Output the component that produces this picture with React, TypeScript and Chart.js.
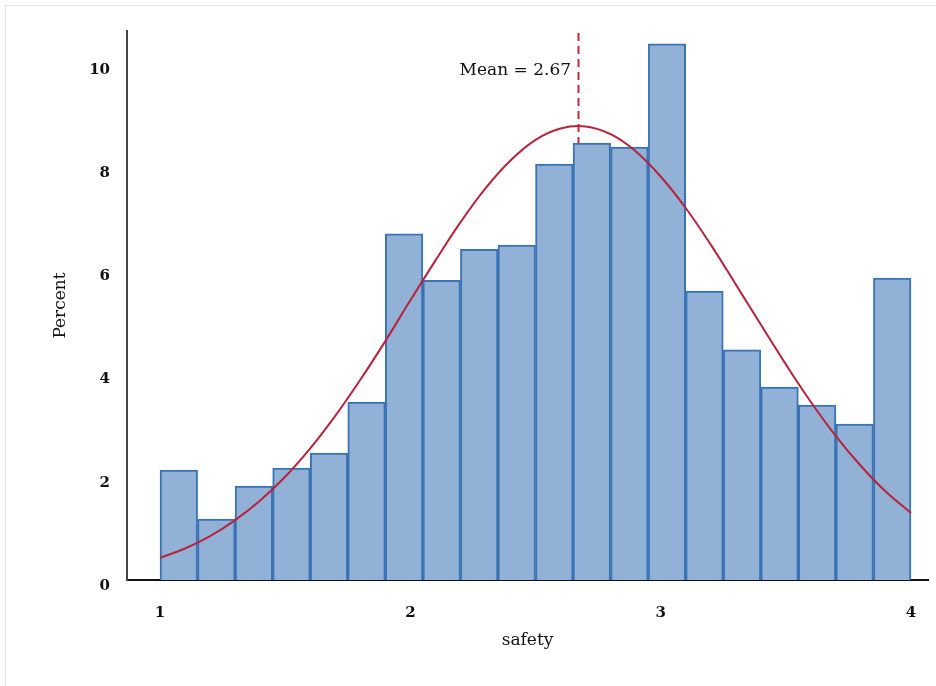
import React, { useEffect, useRef } from "react";
import { Chart, registerables } from "chart.js";

Chart.register(...registerables);

// Histogram of "safety": 20 bins of width 0.15 starting at 1.0 (percent of cases)
const BIN_START = 1.0;
const BIN_WIDTH = 0.15;
const BIN_PERCENTS = [
  2.13, 1.18, 1.82, 2.17, 2.46, 3.45, 6.71, 5.81, 6.41, 6.49,
  8.06, 8.47, 8.39, 10.39, 5.6, 4.46, 3.74, 3.39, 3.02, 5.85,
];

// Fitted normal curve, sampled every 0.1 along the safety axis
const CURVE_X = [
  1.0, 1.1, 1.2, 1.3, 1.4, 1.5, 1.6, 1.7, 1.8, 1.9, 2.0, 2.1, 2.2, 2.3, 2.4, 2.5,
  2.6, 2.7, 2.8, 2.9, 3.0, 3.1, 3.2, 3.3, 3.4, 3.5, 3.6, 3.7, 3.8, 3.9, 4.0,
];
const CURVE_Y = [
  0.43, 0.61, 0.85, 1.16, 1.54, 2.0, 2.55, 3.18, 3.88, 4.63, 5.42, 6.19, 6.93, 7.59, 8.13, 8.53,
  8.75, 8.79, 8.64, 8.31, 7.82, 7.21, 6.5, 5.73, 4.95, 4.18, 3.45, 2.79, 2.21, 1.71, 1.3,
];

const MEAN = 2.67;
const MEAN_LABEL = "Mean = 2.67";

const X_TICKS = [1, 2, 3, 4];
const Y_TICKS = [0, 2, 4, 6, 8, 10];

const X_TITLE = "safety";
const Y_TITLE = "Percent";

const SERIF = "'DejaVu Serif', 'Liberation Serif', serif";

const meanLinePlugin = {
  id: "meanLine",
  beforeDatasetsDraw(chart: any) {
    const { ctx, chartArea, scales } = chart;
    const x = Math.round(scales.x.getPixelForValue(MEAN)) + 0.5;
    ctx.save();
    ctx.strokeStyle = "#c3283f";
    ctx.lineWidth = 2;
    ctx.setLineDash([8, 5]);
    ctx.beginPath();
    ctx.moveTo(x, chartArea.top + 2);
    ctx.lineTo(x, chartArea.bottom);
    ctx.stroke();
    ctx.restore();
  },
  afterDatasetsDraw(chart: any) {
    const { ctx, scales } = chart;
    const x = scales.x.getPixelForValue(MEAN);
    ctx.save();
    ctx.fillStyle = "#111";
    ctx.font = `17px ${SERIF}`;
    ctx.textAlign = "right";
    ctx.textBaseline = "middle";
    ctx.fillText(MEAN_LABEL, x - 7, scales.y.getPixelForValue(9.88));
    ctx.restore();
  },
};

export default function App() {
  const canvasRef = useRef<HTMLCanvasElement | null>(null);

  useEffect(() => {
    document.body.style.margin = "0";
    const canvas = canvasRef.current;
    if (!canvas) return;

    const bars = BIN_PERCENTS.map((v, i) => ({
      x: BIN_START + BIN_WIDTH * (i + 0.5),
      y: v,
    }));
    const curve = CURVE_X.map((x, i) => ({ x, y: CURVE_Y[i] }));

    const chart = new Chart(canvas, {
      type: "bar",
      data: {
        datasets: [
          {
            type: "line",
            data: curve,
            borderColor: "#b8233b",
            borderWidth: 2,
            pointRadius: 0,
            pointHoverRadius: 0,
            tension: 0.4,
            fill: false,
            order: 0,
          } as any,
          {
            type: "bar",
            data: bars,
            backgroundColor: "#91b1d6",
            borderColor: "#3a74b4",
            borderWidth: 2,
            borderSkipped: "bottom",
            barPercentage: 1,
            categoryPercentage: 1,
            order: 1,
          } as any,
        ],
      },
      options: {
        animation: false,
        responsive: false,
        layout: { autoPadding: false, padding: { top: 31, right: 8, left: 0, bottom: 0 } },
        plugins: {
          legend: { display: false },
          tooltip: { enabled: false },
        },
        scales: {
          x: {
            type: "linear",
            offset: false,
            min: 0.868,
            max: 4.068,
            grid: { display: false, drawTicks: false, offset: false },
            border: { display: true, color: "#111", width: 2 },
            afterBuildTicks: (scale: any) => {
              scale.ticks = X_TICKS.map((v) => ({ value: v }));
            },
            afterFit: (scale: any) => {
              scale.height = 106;
              scale.paddingLeft = 0;
              scale.paddingRight = 0;
            },
            ticks: {
              padding: 24,
              color: "#111",
              font: { family: SERIF, size: 15, weight: "bold" },
              maxRotation: 0,
              callback: (v: any) => String(v),
            },
            title: {
              display: true,
              text: X_TITLE,
              color: "#111",
              font: { family: SERIF, size: 17 },
              padding: { top: 0, bottom: 35 },
            },
          },
          y: {
            type: "linear",
            min: 0,
            max: 10.64,
            grid: { display: false, drawTicks: false },
            border: { display: true, color: "#444", width: 2 },
            afterBuildTicks: (scale: any) => {
              scale.ticks = Y_TICKS.map((v) => ({ value: v }));
            },
            afterFit: (scale: any) => {
              scale.width = 127;
              scale.paddingTop = 0;
              scale.paddingBottom = 0;
            },
            ticks: {
              padding: 17,
              labelOffset: 6,
              color: "#111",
              font: { family: SERIF, size: 15, weight: "bold" },
              callback: (v: any) => String(v),
            },
            title: {
              display: true,
              text: Y_TITLE,
              color: "#111",
              font: { family: SERIF, size: 17 },
              padding: { top: 50, bottom: 0 },
            },
          },
        },
      },
      plugins: [meanLinePlugin],
    });

    return () => chart.destroy();
  }, []);

  return (
    <div style={{ position: "relative", width: 936, height: 686, overflow: "hidden", background: "#fff" }}>
      <div
        style={{
          position: "absolute",
          left: 5,
          top: 5,
          width: 960,
          height: 720,
          borderTop: "1px solid #e3e3e3",
          borderLeft: "1px solid #e3e3e3",
        }}
      />
      <canvas ref={canvasRef} width={936} height={686} style={{ position: "absolute", left: 0, top: 0 }} />
    </div>
  );
}
